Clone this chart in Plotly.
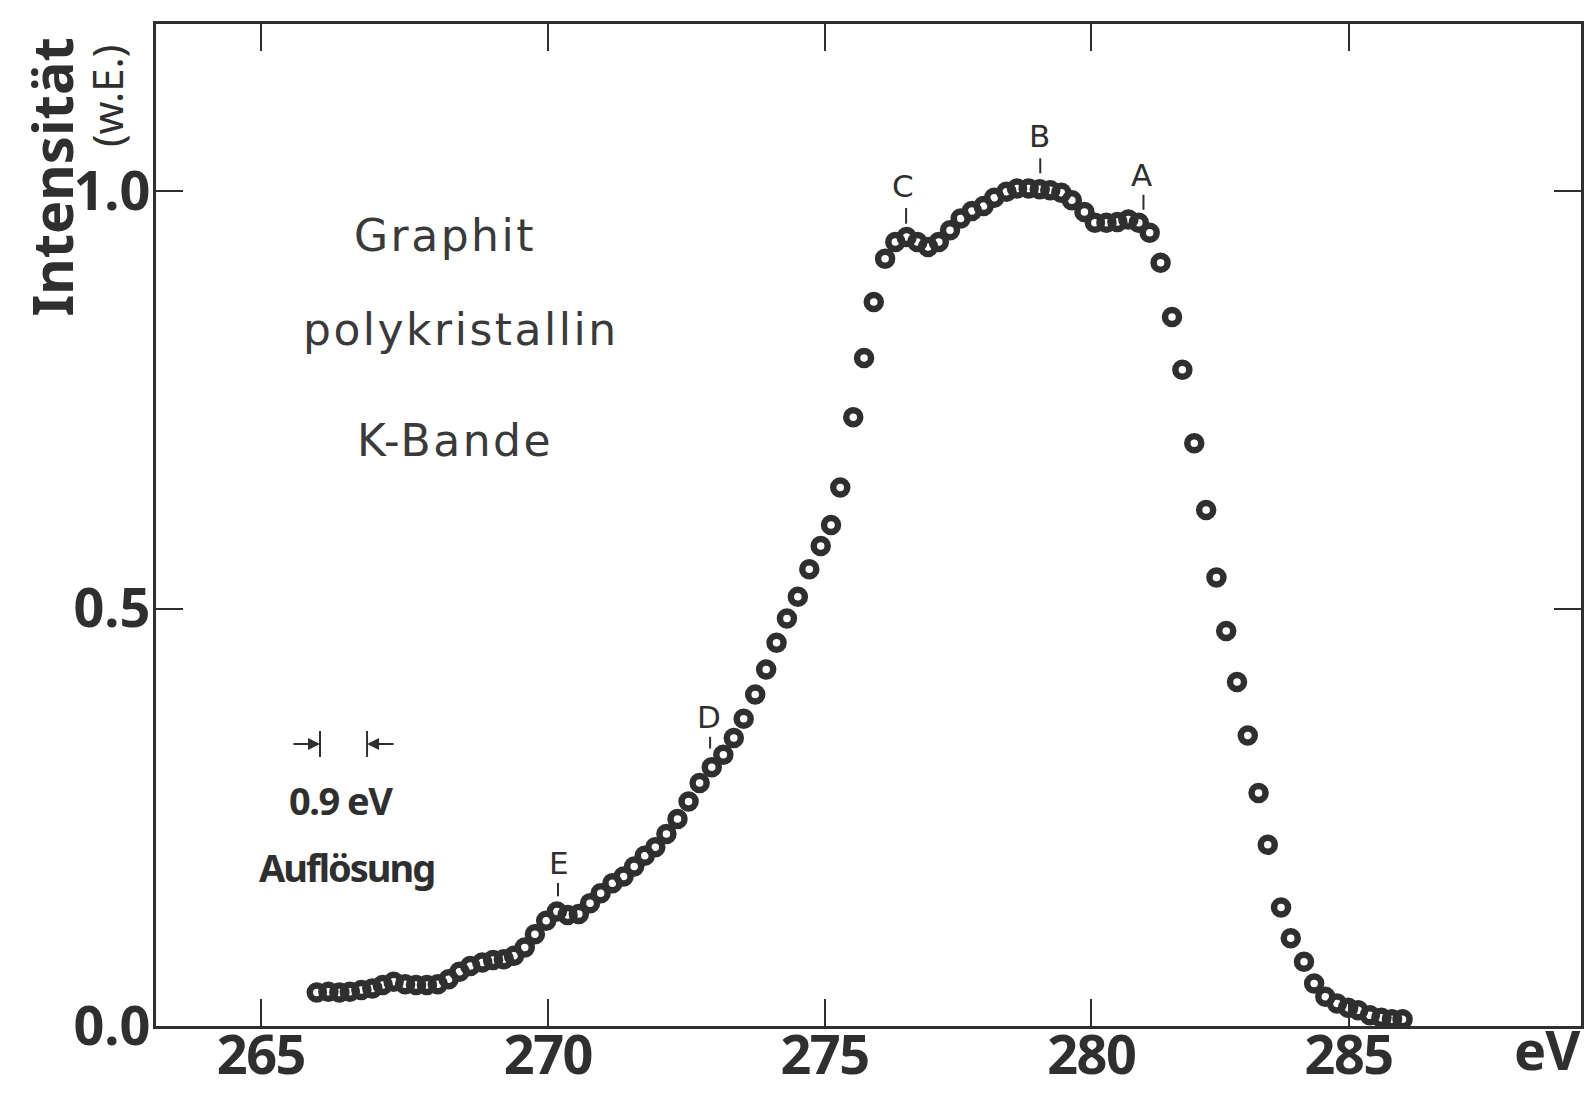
import plotly.graph_objects as go

# ---------------- data ----------------
energy_eV = [
    265.96, 266.16, 266.35, 266.53, 266.73, 266.92, 267.10, 267.29, 267.49, 267.68,
    267.87, 268.06, 268.25, 268.44, 268.63, 268.84, 269.03, 269.22, 269.40, 269.59,
    269.77, 269.97, 270.16, 270.35, 270.55, 270.75, 270.94, 271.15, 271.35, 271.54,
    271.73, 271.92, 272.12, 272.32, 272.52, 272.72, 272.94, 273.15, 273.34, 273.52,
    273.73, 273.93, 274.12, 274.31, 274.51, 274.72, 274.93, 275.12, 275.29, 275.53,
    275.73, 275.91, 276.12, 276.31, 276.52, 276.72, 276.92, 277.12, 277.33, 277.53,
    277.74, 277.96, 278.16, 278.39, 278.59, 278.81, 279.02, 279.22, 279.43, 279.63,
    279.87, 280.07, 280.29, 280.50, 280.71, 280.91, 281.12, 281.33, 281.55, 281.75,
    281.98, 282.21, 282.41, 282.60, 282.81, 283.02, 283.23, 283.41, 283.67, 283.86,
    284.12, 284.32, 284.54, 284.77, 284.99, 285.19, 285.42, 285.65, 285.86, 286.07,
]
intensity = [
    0.040, 0.041, 0.040, 0.041, 0.043, 0.045, 0.049, 0.053, 0.050, 0.049,
    0.049, 0.050, 0.056, 0.065, 0.072, 0.076, 0.079, 0.080, 0.084, 0.094,
    0.110, 0.126, 0.137, 0.133, 0.134, 0.147, 0.159, 0.171, 0.179, 0.191,
    0.204, 0.214, 0.230, 0.248, 0.269, 0.291, 0.310, 0.325, 0.345, 0.368,
    0.397, 0.427, 0.459, 0.488, 0.514, 0.547, 0.575, 0.600, 0.645, 0.729,
    0.800, 0.867, 0.919, 0.939, 0.945, 0.939, 0.933, 0.939, 0.953, 0.967,
    0.976, 0.982, 0.992, 0.999, 1.003, 1.003, 1.002, 1.001, 0.998, 0.989,
    0.975, 0.962, 0.962, 0.963, 0.966, 0.962, 0.950, 0.914, 0.849, 0.786,
    0.698, 0.618, 0.537, 0.473, 0.412, 0.348, 0.279, 0.217, 0.142, 0.105,
    0.077, 0.051, 0.035, 0.027, 0.022, 0.019, 0.013, 0.010, 0.008, 0.008,
]

x_tick_values = [265, 270, 275, 280, 285]
x_tick_labels = ["265", "270", "275", "280", "285"]
y_tick_values = [0.0, 0.5, 1.0]
y_tick_labels = ["0.0", "0.5", "1.0"]

feature_labels = ["A", "B", "C", "D", "E"]
feature_energy = [280.96, 279.01, 276.45, 272.89, 270.19]
feature_level = [1.0195, 1.0656, 1.0055, 0.3703, 0.1952]
feature_tick_energy = [281.00, 279.03, 276.51, 272.91, 270.18]
feature_tick_low = [0.9775, 1.0212, 0.9608, 0.3323, 0.1553]
feature_tick_high = [0.9955, 1.0391, 0.9796, 0.3463, 0.1713]

x_range_eV = [263.22, 289.67]
y_range = [0.0, 1.2]

# energy axis of the original is linear in wavelength (~ 1/E)
SCALE_A = 15614.6
SCALE_B = 4110100.0


def axis_pos(e):
    return SCALE_A - SCALE_B / e


INK = "#2f2f2f"
NARROW = "Noto Sans Condensed, Noto Sans, Liberation Sans, sans-serif"
PLAIN = "DejaVu Sans, Liberation Sans, sans-serif"


def cond(t):
    return '<span style="font-stretch:condensed">' + t + '</span>'


def tight(t, px):
    return ('<span style="font-stretch:condensed;letter-spacing:%.1fpx">' % px) + t + '</span>'


def spaced(t, px):
    return '<span style="letter-spacing:%.1fpx">' % px + t + '</span>'


fig = go.Figure()
fig.add_trace(go.Scatter(
    x=[axis_pos(e) for e in energy_eV],
    y=intensity,
    mode="markers",
    marker=dict(symbol="circle-open", size=14, color=INK, line=dict(width=6.5, color=INK)),
    showlegend=False,
    hoverinfo="skip",
))

annotations = []
shapes = []

# peak labels with their small marker lines
for lab, e, lvl, te, lo, hi in zip(feature_labels, feature_energy, feature_level,
                                   feature_tick_energy, feature_tick_low, feature_tick_high):
    annotations.append(dict(x=axis_pos(e), y=lvl, xref="x", yref="y", text=lab,
                            xanchor="center", yanchor="middle",
                            showarrow=False, font=dict(family=PLAIN, size=31, color=INK)))
    shapes.append(dict(type="line", xref="x", yref="y", x0=axis_pos(te), x1=axis_pos(te),
                       y0=lo, y1=hi, line=dict(color=INK, width=2)))


def paper_text(txt, px, py, size, family, bold=False, angle=0, color=INK):
    annotations.append(dict(x=px, y=py, xref="paper", yref="paper", text=txt, showarrow=False,
                            xanchor="center", yanchor="middle", textangle=angle,
                            font=dict(family=family, size=size, color=color,
                                      weight="bold" if bold else "normal")))


# texts in the plot area
paper_text(spaced("Graphit", 2.5), 0.2028, 0.7894, 44, PLAIN, color="#3a3a3a")
paper_text(spaced("polykristallin", 2.5), 0.2140, 0.6956, 44, PLAIN, color="#3a3a3a")
paper_text(spaced("K-Bande", 2.5), 0.2098, 0.5848, 44, PLAIN, color="#3a3a3a")
paper_text(tight("0.9 eV", -1.5), 0.1298, 0.2255, 38, NARROW, bold=True)
paper_text(tight("Auflösung", -2.0), 0.1340, 0.1587, 38, NARROW, bold=True)

# resolution marker
for bx in [0.1151, 0.1481]:
    shapes.append(dict(type="line", xref="paper", yref="paper", x0=bx, x1=bx, y0=0.2685, y1=0.2944,
                       line=dict(color=INK, width=2)))
annotations.append(dict(x=0.1151, y=0.2814, xref="paper", yref="paper", text="", showarrow=True,
                        ax=-28, ay=0, arrowhead=2, arrowsize=1.2, arrowwidth=2, arrowcolor=INK))
annotations.append(dict(x=0.1481, y=0.2814, xref="paper", yref="paper", text="", showarrow=True,
                        ax=28, ay=0, arrowhead=2, arrowsize=1.2, arrowwidth=2, arrowcolor=INK))

# axis titles
paper_text(cond("Intensität"), -0.0740, 0.8473, 56, NARROW, bold=True, angle=-90)
paper_text(cond("(w.E.)"), -0.0351, 0.9281, 42, NARROW, angle=-90)
paper_text(tight("eV", -1.0), 0.9768, -0.0230, 54, NARROW, bold=True)

fig.update_layout(
    width=1587, height=1095,
    margin=dict(l=156, r=6, t=24, b=69, autoexpand=False),
    paper_bgcolor="white", plot_bgcolor="white",
    annotations=annotations, shapes=shapes,
    showlegend=False,
)
fig.update_xaxes(
    range=[axis_pos(x_range_eV[0]), axis_pos(x_range_eV[1])],
    tickmode="array",
    tickvals=[axis_pos(v) for v in x_tick_values],
    ticktext=[tight(t, -1.5) for t in x_tick_labels],
    ticks="inside", ticklen=27, tickwidth=2, tickcolor=INK,
    showline=True, linewidth=2.5, linecolor=INK, mirror="ticks",
    showgrid=False, zeroline=False, automargin=False,
    ticklabelstandoff=-20,
    tickfont=dict(family=NARROW, size=54, color=INK, weight="bold"),
)
fig.update_yaxes(
    range=y_range,
    tickmode="array",
    tickvals=y_tick_values,
    ticktext=[cond(t) for t in y_tick_labels],
    ticks="inside", ticklen=27, tickwidth=2, tickcolor=INK,
    showline=True, linewidth=2.5, linecolor=INK, mirror="ticks",
    showgrid=False, zeroline=False, automargin=False,
    ticklabelstandoff=-8,
    tickfont=dict(family=NARROW, size=54, color=INK, weight="bold"),
)

fig.write_html("out.html")
